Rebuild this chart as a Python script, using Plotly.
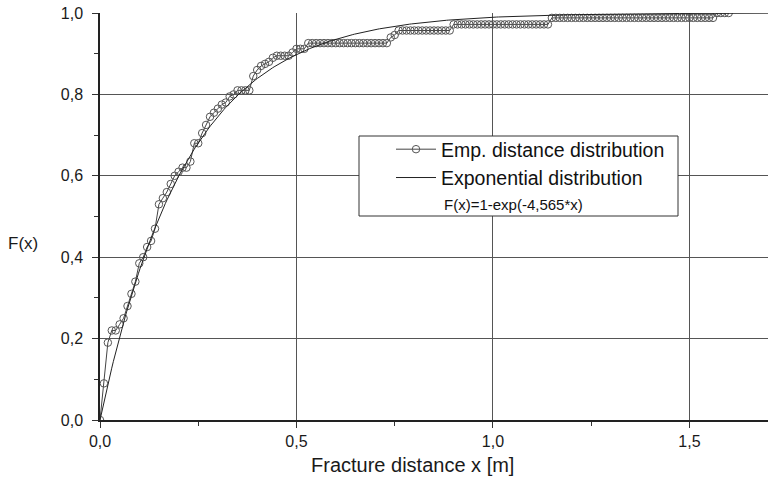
import numpy as np
import plotly.graph_objects as go

emp_x = [round(i * 0.01, 2) for i in range(161)]
emp_y = (
    [0.0, 0.09, 0.19, 0.22, 0.22, 0.235, 0.25, 0.28, 0.31, 0.34,
     0.385, 0.40, 0.425, 0.44, 0.47, 0.53, 0.545, 0.56, 0.58, 0.60,
     0.61, 0.62, 0.62, 0.635, 0.68, 0.68, 0.705, 0.725, 0.745, 0.755,
     0.765, 0.775, 0.78, 0.795, 0.80, 0.81, 0.81, 0.81, 0.81, 0.845,
     0.86, 0.87, 0.875, 0.88, 0.89, 0.895, 0.895, 0.895, 0.895, 0.903,
     0.912, 0.912, 0.912]
    + [0.926] * 21          # 0.53 .. 0.73
    + [0.94, 0.946]         # 0.74, 0.75
    + [0.957] * 14          # 0.76 .. 0.89
    + [0.972] * 25          # 0.90 .. 1.14
    + [0.988] * 42          # 1.15 .. 1.56
    + [1.0] * 4             # 1.57 .. 1.60
)

rate = 4.565
fit_x = np.linspace(0, 1.70, 400)
fit_y = 1 - np.exp(-rate * fit_x)

x_tickvals = [0, 0.5, 1.0, 1.5]
x_ticktext = ["0,0", "0,5", "1,0", "1,5"]
y_tickvals = [0, 0.2, 0.4, 0.6, 0.8, 1.0]
y_ticktext = ["0,0", "0,2", "0,4", "0,6", "0,8", "1,0"]

fig = go.Figure()
fig.add_trace(go.Scatter(
    x=emp_x, y=emp_y, mode="lines+markers",
    name="Emp. distance distribution",
    line=dict(color="#444444", width=1),
    marker=dict(symbol="circle-open", size=7.5, color="#555555", line=dict(width=1)),
))
fig.add_trace(go.Scatter(
    x=fit_x, y=fit_y, mode="lines",
    name="Exponential distribution",
    line=dict(color="#222222", width=1),
))

font = "Liberation Sans, Arial, sans-serif"
L, T, W, H = 100, 13, 668, 407   # plot area in pixels


def px(xp):
    return (xp - L) / W


def py(yp):
    return (T + H - yp) / H


fig.update_layout(
    width=768, height=483,
    margin=dict(l=100, r=0, t=13, b=63),
    paper_bgcolor="white", plot_bgcolor="white",
    font=dict(family=font, color="#1a1a1a", size=16),
    showlegend=True,
    legend=dict(
        x=px(391), y=py(130), xanchor="left", yanchor="top",
        bgcolor="rgba(0,0,0,0)", borderwidth=0,
        font=dict(size=19.5, family=font, color="#111111"),
        tracegroupgap=0, itemwidth=40,
    ),
    shapes=[dict(
        type="rect", xref="paper", yref="paper",
        x0=px(359), x1=px(678), y0=py(216), y1=py(136),
        line=dict(color="#333333", width=1), fillcolor="white", layer="above",
    )],
    annotations=[
        dict(text="F(x)", xref="paper", yref="paper",
             x=px(23), y=py(243), xanchor="center", yanchor="middle",
             showarrow=False, font=dict(size=17, family=font, color="#1a1a1a")),
        dict(text="Fracture distance x [m]", xref="paper", yref="paper",
             x=px(412), y=py(465), xanchor="center", yanchor="middle",
             showarrow=False, font=dict(size=20, family=font, color="#1a1a1a")),
        dict(text="F(x)=1-exp(-4,565*x)", xref="paper", yref="paper",
             x=px(442), y=py(204), xanchor="left", yanchor="middle",
             showarrow=False, font=dict(size=15, family=font, color="#111111")),
    ],
    xaxis=dict(
        range=[0, 1.70], tickvals=x_tickvals, ticktext=x_ticktext,
        showgrid=True, gridcolor="#555555", gridwidth=1,
        showline=True, linecolor="#222222", linewidth=1.5,
        ticks="outside", ticklen=6, tickcolor="#333333",
        minor=dict(tickvals=[0.25, 0.75, 1.25], ticks="outside", ticklen=4,
                   tickcolor="#333333", showgrid=False),
        zeroline=False,
        tickfont=dict(size=16),
    ),
    yaxis=dict(
        range=[0, 1.0], tickvals=y_tickvals, ticktext=y_ticktext,
        showgrid=True, gridcolor="#555555", gridwidth=1,
        showline=True, linecolor="#222222", linewidth=1.5,
        ticks="outside", ticklen=6, tickcolor="#333333",
        ticklabelstandoff=6,
        minor=dict(tickvals=[0.1, 0.3, 0.5, 0.7, 0.9], ticks="outside", ticklen=4,
                   tickcolor="#333333", showgrid=False),
        zeroline=False,
        tickfont=dict(size=16),
    ),
)
fig.write_html("out.html")
